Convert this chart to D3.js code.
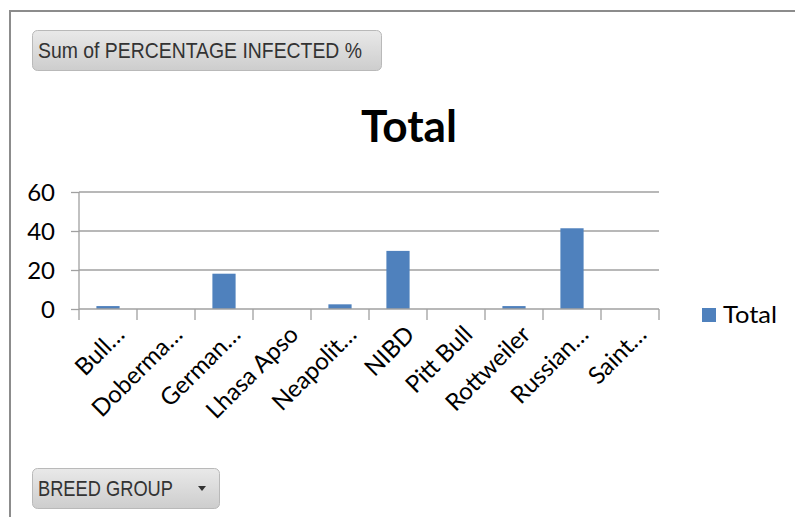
<!DOCTYPE html>
<html><head><meta charset="utf-8">
<script src="https://cdn.jsdelivr.net/npm/d3@7"></script>
<style>html,body{margin:0;padding:0;background:#fff;}svg{display:block;}</style>
</head><body>
<svg id="c" width="795" height="517"></svg>
<script>
const categories = ["Bull…","Doberma…","German…","Lhasa Apso","Neapolit…","NIBD","Pitt Bull","Rottweiler","Russian…","Saint…"];
const values = [1.5, 0, 18.1, 0, 2.4, 29.8, 0, 1.5, 41.4, 0];
const yTicks = [0, 20, 40, 60];
const seriesName = "Total";
const titleText = "Total";
const valueButton = "Sum of PERCENTAGE INFECTED %";
const axisButton = "BREED GROUP";

const svg = d3.select("#c");
const font = "Lato, 'Liberation Sans', sans-serif";

const defs = svg.append("defs");
const g1 = defs.append("linearGradient").attr("id","btn").attr("x1",0).attr("y1",0).attr("x2",0).attr("y2",1);
g1.append("stop").attr("offset","0%").attr("stop-color","#e9e9e9");
g1.append("stop").attr("offset","100%").attr("stop-color","#cdcdcd");

// frame
svg.append("line").attr("x1",10).attr("y1",11).attr("x2",795).attr("y2",11).attr("stroke","#8c8c8c").attr("stroke-width",2);
svg.append("line").attr("x1",10).attr("y1",10).attr("x2",10).attr("y2",517).attr("stroke","#8c8c8c").attr("stroke-width",2);

// buttons
function button(x,y,w,h,label,tl,withArrow){
  svg.append("rect").attr("x",x+0.5).attr("y",y+0.5).attr("width",w).attr("height",h).attr("rx",5)
    .attr("fill","url(#btn)").attr("stroke","#b9b9b9");
  svg.append("text").attr("x",x+6).attr("y",y+h/2+8).attr("font-family","'Liberation Sans', Arial, sans-serif")
    .attr("font-size",22).attr("fill","#333").attr("textLength",tl).attr("lengthAdjust","spacingAndGlyphs").text(label);
  if(withArrow){
    svg.append("path").attr("d",`M${x+166},${y+18}L${x+174},${y+18}L${x+170},${y+23}Z`).attr("fill","#333");
  }
}
button(32,30,349,40,valueButton,324,false);
button(32,468,187,40,axisButton,135,true);

// title
svg.append("text").attr("x",409).attr("y",142).attr("text-anchor","middle").attr("font-family",font)
  .attr("font-weight","bold").attr("font-size",44).attr("fill","#000").attr("textLength",96)
  .attr("lengthAdjust","spacingAndGlyphs").text(titleText);

const x = d3.scaleBand().domain(categories).range([79,659]).paddingInner(0.6).paddingOuter(0.3);
const y = d3.scaleLinear().domain([0,60]).range([309,192]);

// gridlines
svg.append("g").selectAll("line").data(yTicks.filter(d=>d>0)).join("line")
  .attr("x1",79).attr("x2",659).attr("y1",d=>y(d)).attr("y2",d=>y(d))
  .attr("stroke","#a0a0a0").attr("stroke-width",1.3);

// y axis
const ya = svg.append("g").attr("transform","translate(79,0)")
  .call(d3.axisLeft(y).tickValues(yTicks).tickSize(8).tickPadding(16));
ya.select(".domain").attr("stroke","#a0a0a0").attr("stroke-width",1.3).attr("d","M0,309V192");
ya.selectAll(".tick line").attr("stroke","#a0a0a0").attr("stroke-width",1.3);
ya.selectAll("text").attr("font-family",font).attr("font-size",24).attr("fill","#000").attr("dy","0.35em");

// bars
svg.append("g").selectAll("rect").data(values).join("rect")
  .attr("x",(d,i)=>x(categories[i])).attr("width",x.bandwidth())
  .attr("y",d=>y(d)).attr("height",d=>y(0)-y(d)).attr("fill","#4f81bd");

// x axis baseline and ticks
svg.append("line").attr("x1",79).attr("x2",659).attr("y1",309).attr("y2",309).attr("stroke","#a0a0a0").attr("stroke-width",1.3);
const bounds = categories.map(c=>x(c)-(x.step()-x.bandwidth())/2).concat([659]);
svg.append("g").selectAll("line").data(bounds).join("line")
  .attr("x1",d=>d).attr("x2",d=>d).attr("y1",309).attr("y2",320).attr("stroke","#a0a0a0").attr("stroke-width",1.3);

// x labels
svg.append("g").selectAll("text").data(categories).join("text")
  .attr("transform",d=>`translate(${x(d)+x.bandwidth()/2+18},336) rotate(-45)`)
  .attr("text-anchor","end").attr("font-family",font).attr("font-size",24).attr("fill","#000").text(d=>d);

// legend
svg.append("rect").attr("x",702).attr("y",308).attr("width",14).attr("height",14).attr("fill","#4f81bd");
svg.append("text").attr("x",723).attr("y",323).attr("font-family",font).attr("font-size",24).attr("fill","#000")
  .attr("textLength",54).attr("lengthAdjust","spacingAndGlyphs").text(seriesName);
</script>
</body></html>
